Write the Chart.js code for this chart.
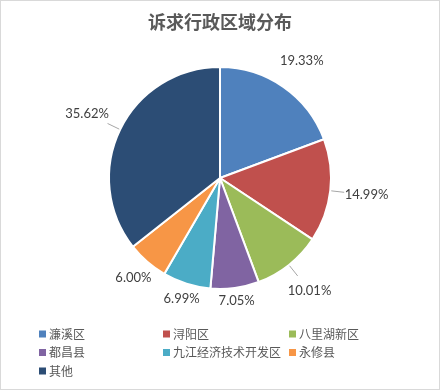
<!DOCTYPE html>
<html>
<head>
<meta charset="utf-8">
<script src="https://cdn.jsdelivr.net/npm/chart.js@4"></script>
<style>
  html, body { margin: 0; padding: 0; background: #fff; }
  #wrap { position: relative; width: 440px; height: 390px; box-sizing: border-box; border: 1px solid #d9d9d9; }
  canvas { display: block; }
</style>
</head>
<body>
<div id="wrap"><canvas id="pieChart" width="438" height="388"></canvas></div>
<script>
// 数据
const titulo = '诉求行政区域分布';
const areas = ['濂溪区', '浔阳区', '八里湖新区', '都昌县', '九江经济技术开发区', '永修县', '其他'];
const shares = [19.33, 14.99, 10.01, 7.05, 6.99, 6.00, 35.62];
const colores = ['#4F81BD', '#C0504D', '#9BBB59', '#8064A2', '#4BACC6', '#F79646', '#2C4D75'];

const cjk = '"Noto Sans CJK SC", "Noto Sans", sans-serif';

// etiquetas de porcentaje fuera del pastel
const etiquetas = {
    id: 'etiquetas',
    afterDatasetsDraw(chart) {
        const ctx = chart.ctx;
        const meta = chart.getDatasetMeta(0);
        ctx.save();
        ctx.font = '13px Lato, "Liberation Sans", sans-serif';
        ctx.fillStyle = '#404040';
        ctx.textBaseline = 'middle';
        ctx.textAlign = 'center';
        meta.data.forEach((arc, i) => {
            const p = arc.getProps(['x', 'y', 'startAngle', 'endAngle', 'outerRadius'], true);
            const mid = (p.startAngle + p.endAngle) / 2;
            const dx = Math.cos(mid), dy = Math.sin(mid);
            const txt = shares[i].toFixed(2) + '%';
            const w = ctx.measureText(txt).width, h = 14;
            const ext = Math.abs(dx) * w / 2 + Math.abs(dy) * h / 2;
            const gap = shares[i] > 9 ? 14 : 4;
            const d = p.outerRadius + gap + ext;
            const cx = p.x + dx * d, cy = p.y + dy * d;
            if (shares[i] > 9 && i !== 0) {
                ctx.strokeStyle = '#a6a6a6';
                ctx.lineWidth = 1;
                ctx.beginPath();
                ctx.moveTo(p.x + dx * (p.outerRadius + 1), p.y + dy * (p.outerRadius + 1));
                ctx.lineTo(p.x + dx * (p.outerRadius + gap), p.y + dy * (p.outerRadius + gap));
                ctx.stroke();
            }
            ctx.fillText(txt, cx, cy);
        });
        ctx.restore();
    }
};

// título y leyenda en cuadrícula
const leyenda = {
    id: 'leyenda',
    afterDraw(chart) {
        const ctx = chart.ctx;
        ctx.save();
        ctx.font = 'bold 18px ' + cjk;
        ctx.fillStyle = '#595959';
        ctx.textAlign = 'center';
        ctx.textBaseline = 'middle';
        ctx.fillText(titulo, 219, 21);

        ctx.font = '12px ' + cjk;
        ctx.textAlign = 'left';
        const cols = [38, 162, 288];
        areas.forEach((a, i) => {
            const x = cols[i % 3];
            const y = 333 + Math.floor(i / 3) * 18.5;
            ctx.fillStyle = colores[i];
            ctx.fillRect(x, y - 3.5, 7, 7);
            ctx.fillStyle = '#595959';
            ctx.fillText(a, x + 10, y);
        });
        ctx.restore();
    }
};

const pctx = document.getElementById('pieChart').getContext('2d');
const piechart = new Chart(pctx, {
    type: 'pie',
    data: {
        labels: areas,
        datasets: [{
            data: shares,
            backgroundColor: colores,
            borderColor: '#ffffff',
            borderWidth: 2
        }]
    },
    options: {
        responsive: false,
        animation: false,
        layout: { padding: { top: 65, bottom: 99, left: 107, right: 107 } },
        plugins: {
            legend: { display: false },
            tooltip: { enabled: false },
            title: { display: false }
        }
    },
    plugins: [etiquetas, leyenda]
});
</script>
</body>
</html>
